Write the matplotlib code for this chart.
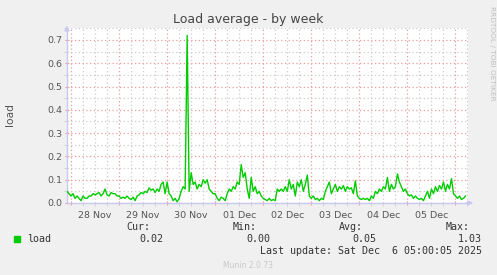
import matplotlib
matplotlib.use("Agg")
import matplotlib.pyplot as plt
import matplotlib.dates as mdates
import pandas as pd
import numpy as np

# ---- data (hourly load averages) ----
start_time = "2025-11-27 22:00"
nov27 = [0.05, 0.04]
nov28 = [0.03, 0.04, 0.02, 0.03, 0.02, 0.01, 0.03, 0.02, 0.02, 0.03, 0.03, 0.04,
         0.035, 0.04, 0.045, 0.03, 0.04, 0.06, 0.035, 0.03, 0.045, 0.04, 0.04, 0.03]
nov29 = [0.03, 0.02, 0.025, 0.02, 0.03, 0.02, 0.015, 0.025, 0.01, 0.03, 0.035, 0.045,
         0.04, 0.05, 0.045, 0.065, 0.055, 0.06, 0.045, 0.06, 0.05, 0.08, 0.09, 0.04]
nov30 = [0.09, 0.04, 0.03, 0.01, 0.02, 0.005, 0.02, 0.05, 0.07, 0.06, 0.72, 0.05,
         0.13, 0.08, 0.09, 0.06, 0.08, 0.07, 0.10, 0.085, 0.10, 0.06, 0.05, 0.04]
dec01 = [0.04, 0.02, 0.01, 0.025, 0.02, 0.01, 0.04, 0.06, 0.05, 0.07, 0.06, 0.09,
         0.08, 0.165, 0.11, 0.13, 0.06, 0.02, 0.11, 0.05, 0.07, 0.04, 0.05, 0.03]
dec02 = [0.02, 0.015, 0.01, 0.02, 0.01, 0.015, 0.01, 0.06, 0.05, 0.06, 0.05, 0.07,
         0.05, 0.10, 0.06, 0.08, 0.03, 0.09, 0.07, 0.10, 0.05, 0.08, 0.12, 0.03]
dec03 = [0.02, 0.03, 0.015, 0.02, 0.01, 0.02, 0.015, 0.05, 0.07, 0.09, 0.04, 0.06,
         0.08, 0.05, 0.07, 0.06, 0.075, 0.05, 0.07, 0.06, 0.065, 0.04, 0.095, 0.03]
dec04 = [0.02, 0.015, 0.02, 0.015, 0.02, 0.01, 0.03, 0.02, 0.05, 0.04, 0.06, 0.05,
         0.07, 0.06, 0.11, 0.05, 0.08, 0.06, 0.07, 0.125, 0.09, 0.07, 0.05, 0.06]
dec05 = [0.04, 0.03, 0.035, 0.02, 0.03, 0.02, 0.015, 0.02, 0.01, 0.03, 0.05, 0.02,
         0.06, 0.04, 0.07, 0.05, 0.075, 0.06, 0.09, 0.05, 0.08, 0.06, 0.105, 0.04]
dec06 = [0.03, 0.02, 0.03, 0.015, 0.02, 0.03]

load = nov27 + nov28 + nov29 + nov30 + dec01 + dec02 + dec03 + dec04 + dec05 + dec06
times = pd.date_range(start_time, periods=len(load), freq="h")

x_start = pd.Timestamp("2025-11-27 22:00")
x_end = pd.Timestamp("2025-12-06 06:15")
y_max = 0.7515

legend_cols = ["Cur:", "Min:", "Avg:", "Max:"]
legend_vals = ["0.02", "0.00", "0.05", "1.03"]
series_name = "load"
title = "Load average - by week"
last_update = "Last update: Sat Dec  6 05:00:05 2025"
footer = "Munin 2.0.73"
side_text = "RRDTOOL / TOBI OETIKER"

# ---- figure ----
W, H = 497, 275
fig = plt.figure(figsize=(W / 100, H / 100), dpi=100, facecolor="#F0F0F0")
L, R, T, B = 67, 468, 28, 203
ax = fig.add_axes([L / W, 1 - B / H, (R - L) / W, (B - T) / H])
ax.set_facecolor("white")

line_green = "#00CC00"
ax.plot(times, load, color=line_green, lw=1.0, zorder=3)

ax.set_xlim(x_start, x_end)
ax.set_ylim(0, y_max)

# grid
ax.xaxis.set_major_locator(mdates.DayLocator())
ax.xaxis.set_minor_locator(mdates.HourLocator(byhour=[0, 6, 12, 18]))
ax.xaxis.set_major_formatter(plt.NullFormatter())


def minor_fmt(v, pos=None):
    d = mdates.num2date(v)
    return d.strftime("%d %b") if d.hour == 12 else ""


ax.xaxis.set_minor_formatter(plt.FuncFormatter(minor_fmt))
ax.yaxis.set_major_locator(plt.MultipleLocator(0.1))
ax.yaxis.set_minor_locator(plt.MultipleLocator(0.05))
ax.yaxis.set_major_formatter(plt.FormatStrFormatter("%.1f"))

red_grid = "#EE9A9A"
grey_grid = "#CCCCCC"
ax.grid(True, which="major", color=red_grid, ls=(0, (1, 2)), lw=0.9, zorder=1)
ax.grid(True, which="minor", color=grey_grid, ls=(0, (1, 2)), lw=0.9, zorder=0)

for s in ["top", "right"]:
    ax.spines[s].set_visible(False)
for s in ["left", "bottom"]:
    ax.spines[s].set_color("#C8C8F0")
    ax.spines[s].set_linewidth(1.0)

tick_col = "#555555"
ax.tick_params(axis="both", which="both", labelsize=6.8, colors=tick_col)
ax.tick_params(axis="x", which="major", length=3, color=red_grid, direction="inout")
ax.tick_params(axis="x", which="minor", length=2, color=grey_grid, pad=4)
ax.tick_params(axis="y", which="major", length=3, color=red_grid, direction="inout", pad=2)
ax.tick_params(axis="y", which="minor", length=2, color=grey_grid)

# arrows at axis ends
ax.annotate("", xy=(0, 1.03), xytext=(0, 0.97), xycoords="axes fraction",
            arrowprops=dict(arrowstyle="-|>", color="#C8C8F0", lw=1, mutation_scale=7))
ax.annotate("", xy=(1.02, 0), xytext=(0.99, 0), xycoords="axes fraction",
            arrowprops=dict(arrowstyle="-|>", color="#C8C8F0", lw=1, mutation_scale=7))

ax.set_ylabel("load", fontsize=7.7, color=tick_col)
ax.yaxis.set_label_coords(-52 / (R - L), (B - 114) / (B - T))

fig.text(248 / W, 1 - 19 / H, title, ha="center", va="center", fontsize=9,
         color="#444444")
fig.text(492 / W, 1 - 53 / H, side_text, ha="center", va="center", rotation=-90,
         fontsize=5.3, color="#C0C0C0")

# legend area
mono = "DejaVu Sans Mono"
fs = 7.2
leg_col = "#333333"
fig.patches.append(plt.Rectangle((14 / W, 1 - 242 / H), 6 / W, 6 / H,
                                 transform=fig.transFigure, color=line_green))
fig.text(27 / W, 1 - 239 / H, series_name, family=mono, fontsize=fs, color=leg_col,
         ha="left", va="center")
col_right_label = [150, 257, 363, 470]
col_right_val = [163, 270, 376, 482]
for lab, val, xl, xv in zip(legend_cols, legend_vals, col_right_label, col_right_val):
    fig.text(xl / W, 1 - 227 / H, lab, family=mono, fontsize=fs, color=leg_col,
             ha="right", va="center")
    fig.text(xv / W, 1 - 239 / H, val, family=mono, fontsize=fs, color=leg_col,
             ha="right", va="center")
fig.text(482 / W, 1 - 251 / H, last_update, family=mono, fontsize=fs, color=leg_col,
         ha="right", va="center")
fig.text(248 / W, 1 - 265 / H, footer, fontsize=5.5, color="#C8C8C8",
         ha="center", va="center")

fig.savefig("out.png", dpi=100, facecolor=fig.get_facecolor())
